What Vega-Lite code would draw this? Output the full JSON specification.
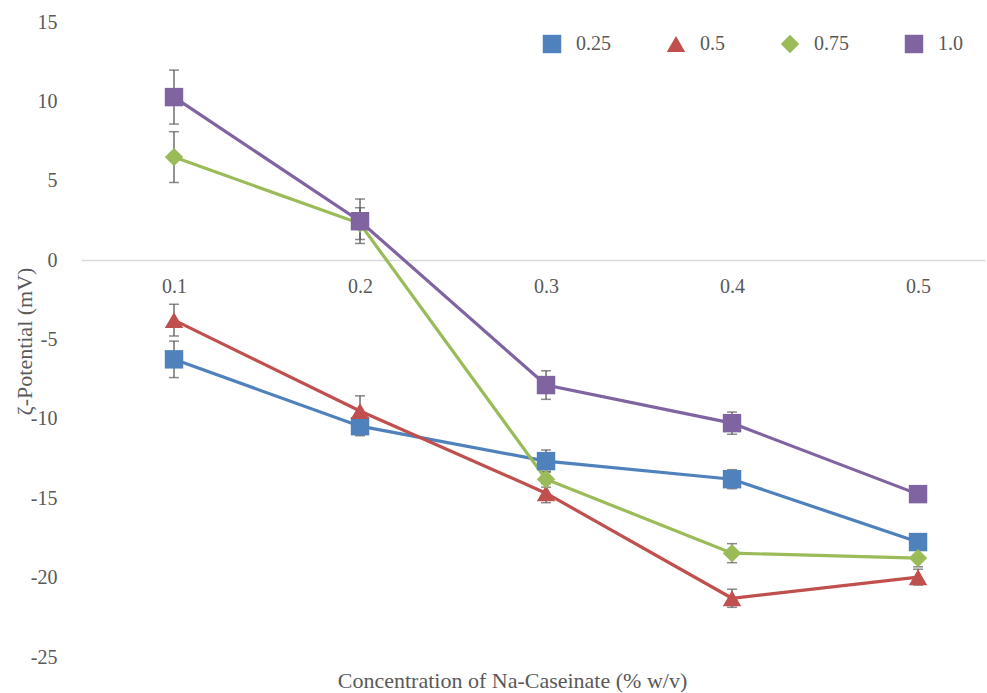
{
  "$schema": "https://vega.github.io/schema/vega-lite/v6.json",
  "width": 904,
  "height": 635,
  "autosize": "none",
  "padding": {"left": 81, "top": 22, "right": 2, "bottom": 36},
  "background": "white",
  "config": {
    "view": {"stroke": null},
    "font": "Liberation Serif, Times New Roman, serif"
  },
  "data": {
    "values": [
      {"conc": 0.1, "series": "0.25", "value": -6.25, "err": 1.15},
      {"conc": 0.2, "series": "0.25", "value": -10.46, "err": 0.6},
      {"conc": 0.3, "series": "0.25", "value": -12.66, "err": 0.7},
      {"conc": 0.4, "series": "0.25", "value": -13.8, "err": 0.6},
      {"conc": 0.5, "series": "0.25", "value": -17.76, "err": 0.3},
      {"conc": 0.1, "series": "0.5", "value": -3.78, "err": 1.0},
      {"conc": 0.2, "series": "0.5", "value": -9.5, "err": 0.95},
      {"conc": 0.3, "series": "0.5", "value": -14.68, "err": 0.6},
      {"conc": 0.4, "series": "0.5", "value": -21.3, "err": 0.57},
      {"conc": 0.5, "series": "0.5", "value": -19.97, "err": 0.5},
      {"conc": 0.1, "series": "0.75", "value": 6.49, "err": 1.6},
      {"conc": 0.2, "series": "0.75", "value": 2.3, "err": 1.0},
      {"conc": 0.3, "series": "0.75", "value": -13.8, "err": 0.5},
      {"conc": 0.4, "series": "0.75", "value": -18.46, "err": 0.6},
      {"conc": 0.5, "series": "0.75", "value": -18.77, "err": 0.55},
      {"conc": 0.1, "series": "1.0", "value": 10.27, "err": 1.7},
      {"conc": 0.2, "series": "1.0", "value": 2.45, "err": 1.4},
      {"conc": 0.3, "series": "1.0", "value": -7.87, "err": 0.9},
      {"conc": 0.4, "series": "1.0", "value": -10.27, "err": 0.7},
      {"conc": 0.5, "series": "1.0", "value": -14.74, "err": 0.3}
    ]
  },
  "transform": [
    {"calculate": "datum.value - datum.err", "as": "lo"},
    {"calculate": "datum.value + datum.err", "as": "hi"}
  ],
  "encoding": {
    "x": {
      "field": "conc",
      "type": "quantitative",
      "scale": {"domain": [0.05, 0.536], "nice": false, "zero": false},
      "axis": {
        "values": [0.1, 0.2, 0.3, 0.4, 0.5],
        "format": ".1f",
        "orient": "bottom",
        "offset": -397,
        "grid": false,
        "ticks": false,
        "domain": true,
        "domainColor": "#D9D9D9",
        "domainWidth": 1.5,
        "labelFont": "Liberation Serif, Times New Roman, serif",
        "labelFontSize": 20,
        "labelColor": "#595959",
        "labelPadding": 16,
        "title": "Concentration of Na-Caseinate (% w/v)",
        "titleFont": "Liberation Serif, Times New Roman, serif",
        "titleFontSize": 22,
        "titleFontWeight": "normal",
        "titleColor": "#595959",
        "titleX": 431,
        "titleY": 427,
        "titleBaseline": "alphabetic",
        "titleAnchor": "middle"
      }
    }
  },
  "layer": [
    {
      "mark": {"type": "rule", "color": "#595959", "strokeWidth": 1.3},
      "encoding": {
        "y": {
          "field": "lo",
          "type": "quantitative",
          "scale": {"domain": [-25, 15], "nice": false},
          "axis": {
            "values": [-25, -20, -15, -10, -5, 0, 5, 10, 15],
            "labelExpr": "datum.value < 0 ? '-' + abs(datum.value) : '' + datum.value",
            "grid": false,
            "ticks": false,
            "domain": false,
            "labelFont": "Liberation Serif, Times New Roman, serif",
            "labelFontSize": 20,
            "labelColor": "#595959",
            "labelPadding": 24,
            "title": "ζ-Potential (mV)",
            "titleFont": "Liberation Serif, Times New Roman, serif",
            "titleFontSize": 22,
            "titleFontWeight": "normal",
            "titleColor": "#595959",
            "titleX": -57,
            "titleY": 319,
            "titleAngle": -90,
            "titleBaseline": "middle",
            "titleAnchor": "middle"
          }
        },
        "y2": {"field": "hi"}
      }
    },
    {
      "mark": {"type": "tick", "orient": "horizontal", "color": "#595959", "size": 10, "thickness": 1.5},
      "encoding": {"y": {"field": "lo", "type": "quantitative"}}
    },
    {
      "mark": {"type": "tick", "orient": "horizontal", "color": "#595959", "size": 10, "thickness": 1.5},
      "encoding": {"y": {"field": "hi", "type": "quantitative"}}
    },
    {
      "mark": {"type": "line", "strokeWidth": 3.2},
      "encoding": {
        "y": {"field": "value", "type": "quantitative"},
        "color": {
          "field": "series",
          "type": "nominal",
          "scale": {
            "domain": ["0.25", "0.5", "0.75", "1.0"],
            "range": ["#4F81BD", "#C0504D", "#9BBB59", "#8064A2"]
          },
          "legend": {
            "orient": "none",
            "legendX": 461,
            "legendY": 12,
            "direction": "horizontal",
            "columns": 4,
            "columnPadding": 55,
            "title": null,
            "symbolSize": 340,
            "symbolStrokeWidth": 0,
            "symbolOpacity": 1,
            "labelFont": "Liberation Serif, Times New Roman, serif",
            "labelFontSize": 20,
            "labelColor": "#595959",
            "labelOffset": 14
          }
        },
        "detail": {"field": "series"}
      }
    },
    {
      "mark": {"type": "point", "filled": true, "opacity": 1, "size": 340},
      "encoding": {
        "y": {"field": "value", "type": "quantitative"},
        "color": {"field": "series", "type": "nominal"},
        "shape": {
          "field": "series",
          "type": "nominal",
          "scale": {
            "domain": ["0.25", "0.5", "0.75", "1.0"],
            "range": ["square", "triangle-up", "diamond", "square"]
          },
          "legend": null
        }
      }
    }
  ]
}
